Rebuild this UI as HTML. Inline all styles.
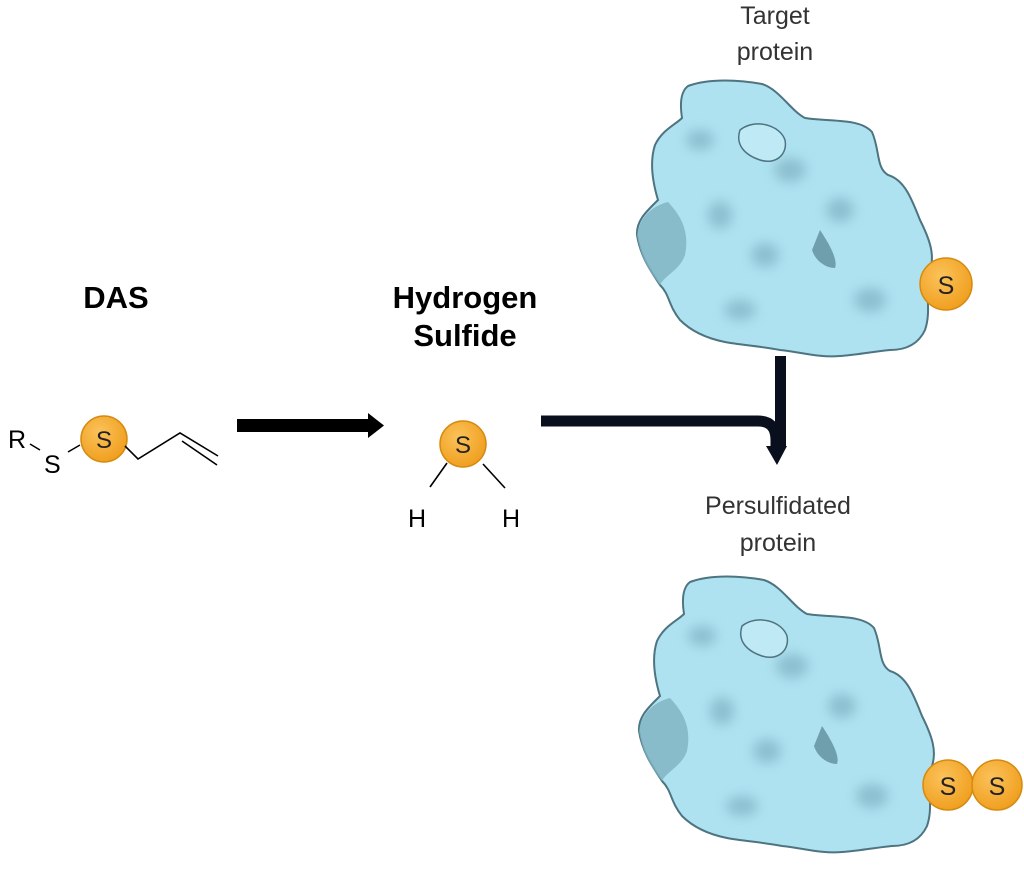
<!DOCTYPE html>
<html><head><meta charset="utf-8"><style>
html,body{margin:0;padding:0;background:#fff;}
svg{display:block;}
text{font-family:"Liberation Sans",sans-serif;}
</style></head><body>
<svg width="1024" height="882" viewBox="0 0 1024 882" xmlns="http://www.w3.org/2000/svg">
<defs>
<radialGradient id="og" cx="40%" cy="35%" r="65%">
<stop offset="0" stop-color="#fbc25a"/><stop offset="1" stop-color="#f0a020"/>
</radialGradient>
<filter id="bl" x="-20%" y="-20%" width="140%" height="140%"><feGaussianBlur stdDeviation="6"/></filter>
<g id="prot">
<path d="M688,86 C710,78 740,80 762,84 C780,90 790,110 805,118 C830,122 860,118 872,132 C880,150 876,168 888,175 C905,180 912,200 920,220 C930,240 935,255 930,270 C924,290 932,310 925,330 C918,345 905,350 890,350 C870,352 855,355 840,356 C820,358 800,352 780,350 C760,346 740,345 725,342 C705,338 690,330 680,320 C668,305 670,295 660,285 C650,270 640,255 637,235 C636,220 648,210 658,200 C652,180 650,160 655,145 C662,130 675,125 682,118 C680,105 680,92 688,86 Z" fill="#aee2f1" stroke="#4d7480" stroke-width="2"/>
<g filter="url(#bl)" opacity="0.55" fill="#6fa3b3">
<ellipse cx="790" cy="170" rx="16" ry="12"/>
<ellipse cx="765" cy="255" rx="14" ry="12"/>
<ellipse cx="720" cy="215" rx="12" ry="14"/>
<ellipse cx="870" cy="300" rx="16" ry="12"/>
<ellipse cx="700" cy="140" rx="14" ry="10"/>
<ellipse cx="840" cy="210" rx="14" ry="12"/>
<ellipse cx="740" cy="310" rx="16" ry="10"/>
</g>
<path d="M637,235 C640,215 655,205 668,202 C680,215 690,230 685,255 C680,270 665,275 660,285 C648,270 640,255 637,235 Z" fill="#7fb3c2" opacity="0.8"/>
<path d="M740,130 C755,118 780,125 785,140 C788,155 775,165 760,160 C745,155 735,145 740,130 Z" fill="#bfe9f5" stroke="#4d7480" stroke-width="1.5"/>
<path d="M820,230 C830,245 838,260 835,268 C825,268 815,260 812,250 Z" fill="#6f9fad"/>
</g>
</defs>

<text x="775" y="24" font-size="25" text-anchor="middle" fill="#333">Target</text>
<text x="775" y="60" font-size="25" text-anchor="middle" fill="#333">protein</text>
<use href="#prot"/>
<circle cx="946" cy="284" r="26" fill="url(#og)" stroke="#d58a10" stroke-width="1.5"/>
<text x="946" y="294" font-size="25" text-anchor="middle" fill="#222">S</text>

<text x="778" y="514" font-size="25" text-anchor="middle" fill="#333">Persulfidated</text>
<text x="778" y="551" font-size="25" text-anchor="middle" fill="#333">protein</text>
<use href="#prot" transform="translate(2,496)"/>
<circle cx="948" cy="785" r="25" fill="url(#og)" stroke="#d58a10" stroke-width="1.5"/>
<text x="948" y="795" font-size="25" text-anchor="middle" fill="#222">S</text>
<circle cx="997" cy="785" r="25" fill="url(#og)" stroke="#d58a10" stroke-width="1.5"/>
<text x="997" y="795" font-size="25" text-anchor="middle" fill="#222">S</text>

<text x="116" y="308" font-size="31" font-weight="bold" text-anchor="middle" fill="#000">DAS</text>
<text x="8" y="448" font-size="25" fill="#000">R</text>
<line x1="30" y1="444" x2="40" y2="450" stroke="#000" stroke-width="1.5"/>
<text x="44" y="473" font-size="25" fill="#000">S</text>
<line x1="68" y1="452" x2="80" y2="445" stroke="#000" stroke-width="1.5"/>
<circle cx="104" cy="439" r="23" fill="url(#og)" stroke="#d58a10" stroke-width="1.5"/>
<text x="104" y="448" font-size="24" text-anchor="middle" fill="#222">S</text>
<polyline points="125,446 138,459 180,433 218,456" fill="none" stroke="#000" stroke-width="1.6"/>
<line x1="182" y1="441" x2="217" y2="465" stroke="#000" stroke-width="1.6"/>

<rect x="237" y="419" width="133" height="13" fill="#000"/>
<polygon points="368,413 384,425.5 368,438" fill="#000"/>

<text x="465" y="308" font-size="31" font-weight="bold" text-anchor="middle" fill="#000">Hydrogen</text>
<text x="465" y="346" font-size="31" font-weight="bold" text-anchor="middle" fill="#000">Sulfide</text>
<circle cx="463" cy="444" r="23" fill="url(#og)" stroke="#d58a10" stroke-width="1.5"/>
<text x="463" y="453" font-size="24" text-anchor="middle" fill="#222">S</text>
<line x1="447" y1="463" x2="430" y2="487" stroke="#000" stroke-width="1.6"/>
<line x1="483" y1="464" x2="505" y2="488" stroke="#000" stroke-width="1.6"/>
<text x="417" y="527" font-size="25" text-anchor="middle" fill="#000">H</text>
<text x="511" y="527" font-size="25" text-anchor="middle" fill="#000">H</text>

<path d="M541,421 L758,421 Q776,421 776,440 L776,450" fill="none" stroke="#0a0f1e" stroke-width="11"/>
<rect x="775" y="356" width="11" height="92" fill="#0a0f1e"/>
<polygon points="766,446 787,446 777,465" fill="#0a0f1e"/>
</svg>
</body></html>
